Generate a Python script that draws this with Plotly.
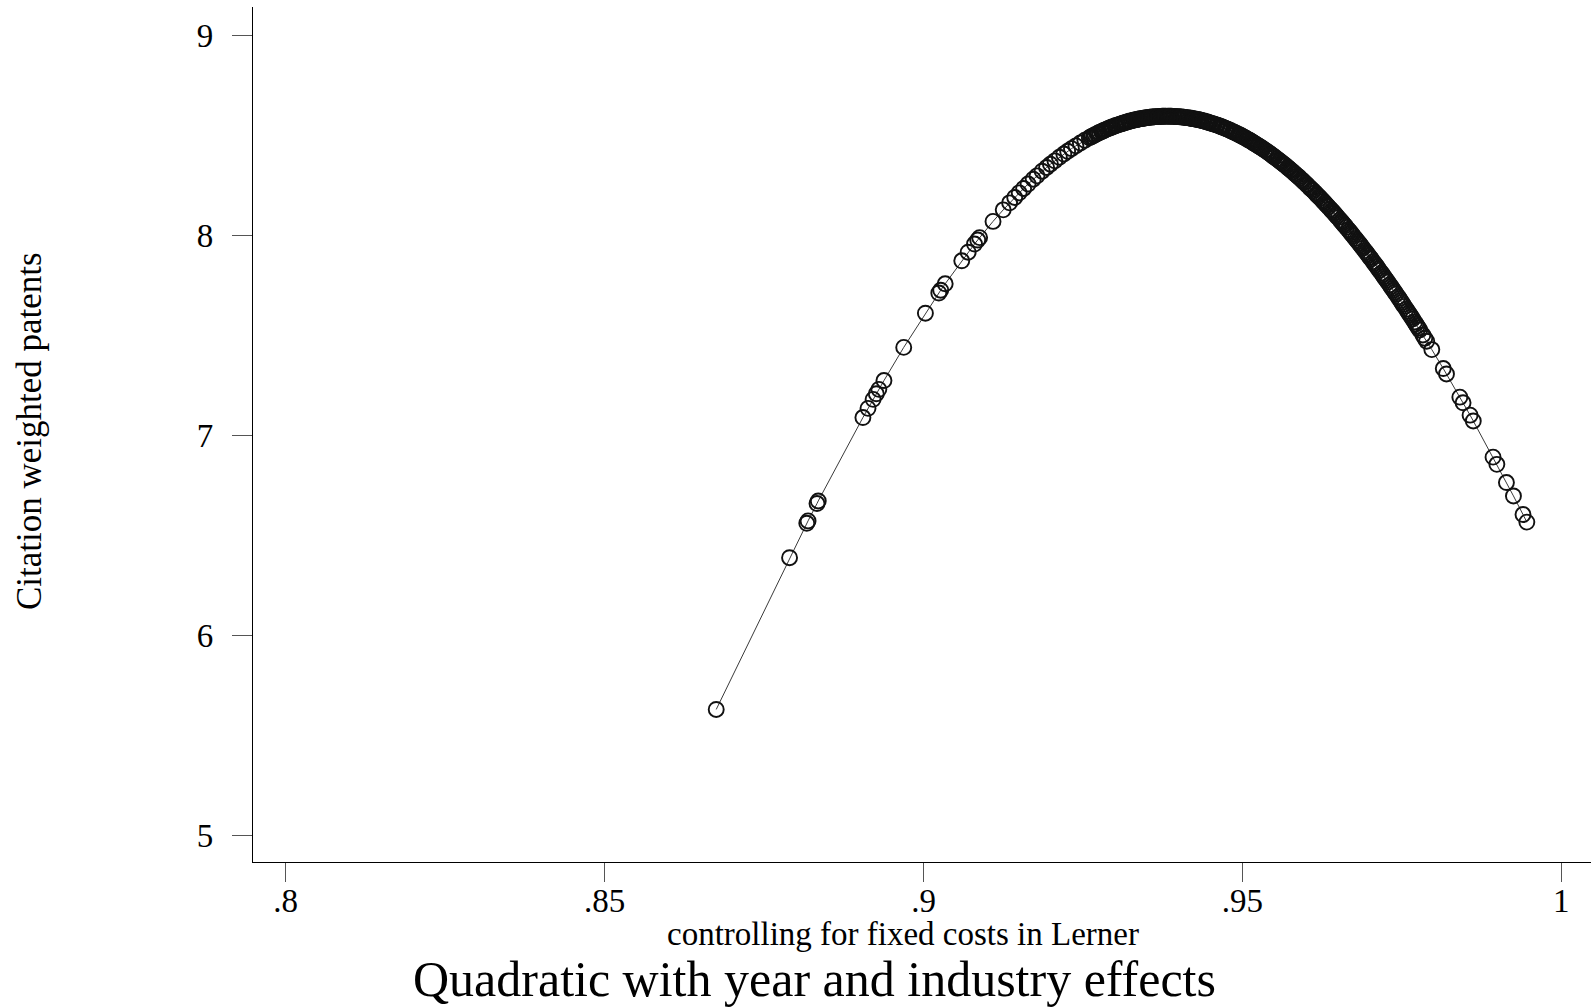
import plotly.graph_objects as go

lerner = [
    0.8675, 0.8790, 0.8817, 0.8819, 0.8833, 0.8835, 0.8905, 0.8913, 0.8921, 0.8926,
    0.8930, 0.8938, 0.8969, 0.9003, 0.9024, 0.9027, 0.9034, 0.9060, 0.9070, 0.9080,
    0.9085, 0.9088, 0.9109, 0.9125, 0.9135, 0.9143, 0.9150, 0.9157, 0.9164, 0.9172,
    0.9178, 0.9186, 0.9193, 0.9199, 0.9206, 0.9213, 0.9220, 0.9226, 0.9232, 0.9239,
    0.9246, 0.9253,
    0.9260, 0.9264, 0.9267, 0.9272, 0.9276, 0.9281, 0.9285, 0.9288, 0.9293, 0.9297,
    0.9302, 0.9305, 0.9310, 0.9314, 0.9317, 0.9322, 0.9326, 0.9331, 0.9334, 0.9338,
    0.9343, 0.9347, 0.9351, 0.9355, 0.9360, 0.9364, 0.9367, 0.9372, 0.9376, 0.9380,
    0.9385, 0.9389, 0.9392, 0.9397, 0.9401, 0.9405, 0.9410, 0.9413, 0.9418, 0.9422,
    0.9426, 0.9431, 0.9435, 0.9438, 0.9443, 0.9447, 0.9452, 0.9456, 0.9459, 0.9464,
    0.9468, 0.9473, 0.9477, 0.9480, 0.9485, 0.9489, 0.9494, 0.9498, 0.9502, 0.9506,
    0.9511, 0.9515, 0.9519, 0.9524, 0.9528, 0.9532, 0.9537, 0.9540, 0.9545, 0.9549,
    0.9554, 0.9558, 0.9562, 0.9566, 0.9571, 0.9575, 0.9579, 0.9584, 0.9588, 0.9593,
    0.9597, 0.9600, 0.9605, 0.9609, 0.9614, 0.9618, 0.9622, 0.9627, 0.9631, 0.9635,
    0.9640, 0.9644, 0.9648, 0.9653, 0.9657, 0.9661, 0.9666, 0.9670, 0.9674, 0.9679,
    0.9683, 0.9687, 0.9692, 0.9696, 0.9700, 0.9705, 0.9709, 0.9713, 0.9718, 0.9722,
    0.9726, 0.9731, 0.9735, 0.9739, 0.9744, 0.9748, 0.9752, 0.9757, 0.9761, 0.9765,
    0.9770, 0.9774, 0.9778,
    0.9783, 0.9786, 0.9789, 0.9797, 0.9815, 0.9820, 0.9841, 0.9846, 0.9857, 0.9862,
    0.9893, 0.9899, 0.9914, 0.9925, 0.9940, 0.9946,
]

patents = [
    5.630, 6.389, 6.561, 6.573, 6.660, 6.673, 7.090, 7.136, 7.181, 7.209,
    7.231, 7.275, 7.441, 7.612, 7.713, 7.727, 7.759, 7.874, 7.917, 7.958,
    7.978, 7.990, 8.071, 8.129, 8.164, 8.191, 8.214, 8.236, 8.258, 8.282,
    8.299, 8.322, 8.341, 8.357, 8.374, 8.392, 8.408, 8.422, 8.435, 8.449,
    8.463, 8.477,
    8.489, 8.496, 8.501, 8.509, 8.516, 8.523, 8.529, 8.533, 8.540, 8.545,
    8.551, 8.554, 8.559, 8.563, 8.566, 8.571, 8.574, 8.578, 8.580, 8.583,
    8.586, 8.588, 8.590, 8.592, 8.593, 8.595, 8.595, 8.596, 8.597, 8.597,
    8.597, 8.597, 8.596, 8.595, 8.594, 8.593, 8.591, 8.590, 8.588, 8.585,
    8.583, 8.580, 8.577, 8.574, 8.570, 8.566, 8.561, 8.557, 8.554, 8.548,
    8.543, 8.537, 8.532, 8.527, 8.520, 8.514, 8.506, 8.500, 8.493, 8.486,
    8.477, 8.469, 8.461, 8.451, 8.443, 8.435, 8.424, 8.417, 8.406, 8.396,
    8.384, 8.374, 8.364, 8.354, 8.341, 8.330, 8.319, 8.305, 8.294, 8.279,
    8.267, 8.258, 8.242, 8.230, 8.214, 8.201, 8.188, 8.171, 8.157, 8.143,
    8.126, 8.112, 8.097, 8.079, 8.064, 8.049, 8.029, 8.014, 7.998, 7.978,
    7.962, 7.946, 7.925, 7.908, 7.891, 7.870, 7.853, 7.835, 7.813, 7.795,
    7.777, 7.754, 7.736, 7.717, 7.694, 7.675, 7.656, 7.632, 7.612, 7.593,
    7.568, 7.548, 7.528,
    7.503, 7.487, 7.472, 7.430, 7.335, 7.308, 7.192, 7.164, 7.102, 7.073,
    6.892, 6.856, 6.765, 6.698, 6.605, 6.567,
]

# Additional observations packed inside the dense band near the peak
lerner_dense = [
    0.9262, 0.9269, 0.9274, 0.9279, 0.9283, 0.9291, 0.9295, 0.9300, 0.9308, 0.9312,
    0.9319, 0.9324, 0.9329, 0.9336, 0.9341, 0.9345, 0.9349, 0.9353, 0.9358, 0.9362,
    0.9369, 0.9374, 0.9378, 0.9383, 0.9387, 0.9394, 0.9399, 0.9403, 0.9408, 0.9415,
    0.9420, 0.9424, 0.9429, 0.9433, 0.9440, 0.9445, 0.9449, 0.9454, 0.9461, 0.9466,
    0.9470, 0.9475, 0.9482, 0.9487, 0.9491, 0.9496, 0.9500, 0.9504, 0.9509, 0.9513,
    0.9517, 0.9521, 0.9526, 0.9530, 0.9535, 0.9542, 0.9547, 0.9551, 0.9556, 0.9560,
    0.9564, 0.9568, 0.9573, 0.9577, 0.9582, 0.9586, 0.9590, 0.9595, 0.9602, 0.9607,
    0.9611, 0.9616, 0.9620, 0.9625, 0.9629, 0.9633, 0.9638, 0.9642, 0.9646, 0.9650,
    0.9655, 0.9659, 0.9663, 0.9668, 0.9672, 0.9677, 0.9681, 0.9685, 0.9689, 0.9694,
    0.9698, 0.9702, 0.9707, 0.9711, 0.9715, 0.9720, 0.9724, 0.9728, 0.9733, 0.9737,
    0.9741, 0.9746, 0.9750, 0.9754, 0.9759, 0.9763, 0.9767, 0.9772, 0.9776,
]

patents_dense = [
    8.493, 8.505, 8.513, 8.520, 8.526, 8.537, 8.542, 8.548, 8.557, 8.561,
    8.568, 8.573, 8.577, 8.582, 8.585, 8.587, 8.589, 8.591, 8.593, 8.594,
    8.596, 8.597, 8.597, 8.597, 8.597, 8.596, 8.595, 8.594, 8.592, 8.589,
    8.586, 8.584, 8.581, 8.578, 8.573, 8.568, 8.564, 8.559, 8.552, 8.546,
    8.541, 8.534, 8.525, 8.517, 8.511, 8.503, 8.496, 8.489, 8.480, 8.473,
    8.465, 8.457, 8.447, 8.439, 8.428, 8.413, 8.401, 8.392, 8.379, 8.369,
    8.359, 8.349, 8.336, 8.325, 8.311, 8.299, 8.288, 8.273, 8.252, 8.236,
    8.224, 8.207, 8.194, 8.178, 8.164, 8.150, 8.133, 8.119, 8.104, 8.090,
    8.071, 8.056, 8.041, 8.022, 8.006, 7.986, 7.970, 7.954, 7.937, 7.917,
    7.900, 7.883, 7.861, 7.844, 7.826, 7.804, 7.786, 7.768, 7.745, 7.727,
    7.708, 7.685, 7.666, 7.646, 7.622, 7.603, 7.583, 7.558, 7.538,
]

x_tickvals = [0.8, 0.85, 0.9, 0.95, 1.0]
x_ticktext = [".8", ".85", ".9", ".95", "1"]
y_tickvals = [5, 6, 7, 8, 9]
y_ticktext = ["5", "6", "7", "8", "9"]

title_text = "Quadratic with year and industry effects"
x_title = "controlling for fixed costs in Lerner"
y_title = "Citation weighted patents"

FONT = "Liberation Serif"

# connect observations in order of the x variable (as the original graph does)
pairs = sorted(zip(lerner + lerner_dense, patents + patents_dense))
xs = [p[0] for p in pairs]
ys = [p[1] for p in pairs]

fig = go.Figure()
fig.add_trace(go.Scatter(
    x=xs, y=ys,
    mode="lines+markers",
    line=dict(color="#3a3a3a", width=1),
    marker=dict(symbol="circle-open", size=15, color="#111111",
                line=dict(color="#111111", width=1.9)),
    showlegend=False,
    hoverinfo="x+y",
))

W, H = 1591, 1008
L, R, T, B = 253, 0, 7, 146
pw, ph = W - L - R, H - T - B

def px_x(px):
    return (px - L) / pw

def px_y(py):
    return (H - B - py) / ph

fig.update_layout(
    width=W, height=H,
    margin=dict(l=L, r=R, t=T, b=B, pad=0),
    paper_bgcolor="white", plot_bgcolor="white",
    font=dict(family=FONT, color="black", size=33),
    xaxis=dict(
        range=[0.79487, 1.00466], tickmode="array",
        tickvals=x_tickvals, ticktext=x_ticktext,
        showgrid=False, zeroline=False,
        showline=True, linecolor="black", linewidth=1.3,
        ticks="outside", ticklen=19, tickwidth=1.3, tickcolor="#555555",
        tickfont=dict(family=FONT, size=33, color="black"),
        ticklabelstandoff=-10,
    ),
    yaxis=dict(
        range=[4.867, 9.1435], tickmode="array",
        tickvals=y_tickvals, ticktext=y_ticktext,
        showgrid=False, zeroline=False,
        showline=True, linecolor="black", linewidth=1.3,
        ticks="outside", ticklen=20, tickwidth=1.3, tickcolor="#555555",
        tickfont=dict(family=FONT, size=33, color="black"),
        ticklabelstandoff=12,
    ),
    annotations=[
        dict(text=x_title, xref="paper", yref="paper",
             x=px_x(903), y=px_y(934), xanchor="center", yanchor="middle",
             showarrow=False, font=dict(family=FONT, size=33, color="black")),
        dict(text=title_text, xref="paper", yref="paper",
             x=px_x(814), y=px_y(979), xanchor="center", yanchor="middle",
             showarrow=False, font=dict(family=FONT, size=50, color="black")),
        dict(text=y_title, xref="paper", yref="paper",
             x=px_x(30), y=px_y(431), xanchor="center", yanchor="middle",
             textangle=-90,
             showarrow=False, font=dict(family=FONT, size=35, color="black")),
    ],
)

fig.write_html("out.html", config={"displayModeBar": False},
               post_script="document.body.style.margin='0px';")
